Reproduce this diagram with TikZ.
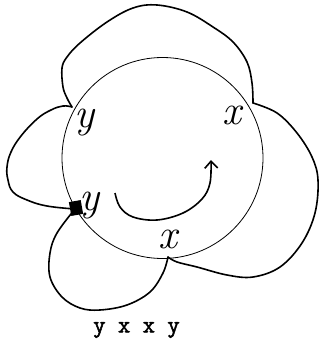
\documentclass[tikz,border=0pt]{standalone}
\usepackage{fontspec}
\newfontfamily\monofont[FakeBold=2]{Latin Modern Mono}
\usetikzlibrary{arrows.meta}
\begin{document}
\begin{tikzpicture}[x=1pt,y=-1pt,
  outer/.style={line width=1.6pt,line join=round,line cap=round},
  hand/.style={inner sep=0pt,font=\fontsize{42}{42}\selectfont\itshape}]
\useasboundingbox (0,0) rectangle (320,340);
\node[draw,circle,line width=0.8pt,minimum size=201pt,inner sep=0pt] (circ) at (162.5,158) {};
\coordinate (A) at (72,107);
\coordinate (B) at (253,103);
\coordinate (C) at (168,257);
\coordinate (D) at (75,209);
% top loop
\draw[outer] plot[smooth,tension=0.6] coordinates {(A) (67,98) (63,87) (62,68) (67,57) (80,43) (107,22) (133,8) (157,5) (187,12) (213,27) (233,42) (247,62) (252,83) (B)};
% right loop
\draw[outer] plot[smooth,tension=0.6] coordinates {(B) (277,113) (297,133) (312,157) (318,180) (315,213) (302,243) (280,267) (253,277) (227,275) (197,267) (177,262) (C)};
% bottom loop
\draw[outer] plot[smooth,tension=0.6] coordinates {(C) (163,273) (150,292) (127,305) (100,310) (80,308) (62,297) (50,277) (50,253) (57,233) (D)};
% left loop
\draw[outer] plot[smooth,tension=0.7] coordinates {(D) (47,206) (27,200) (13,192) (8,180) (7,167) (11,152) (21,136) (37,119) (51,110) (63,106) (A)};
% black square
\fill[rotate around={10:(76,208)}] (70,201) rectangle (82,215);
% labels
\node[hand] (y1) at (84,123) {y};
\node[hand] (x1) at (232,115) {x};
\node[hand] (y2) at (89,206) {y};
\node[hand] (x2) at (168,239) {x};
% arrow
\draw[line width=1.6pt,-{Straight Barb[length=7pt,width=13pt]}] plot[smooth,tension=0.6] coordinates {(115,193) (120,207) (133,217) (157,220) (183,213) (202,199) (210,183) (211,160)};
% bottom text
\node[inner sep=0pt,font=\monofont\bfseries\fontsize{24}{24}\selectfont] (word) at (136.5,330) {y x x y};
\end{tikzpicture}
\end{document}
